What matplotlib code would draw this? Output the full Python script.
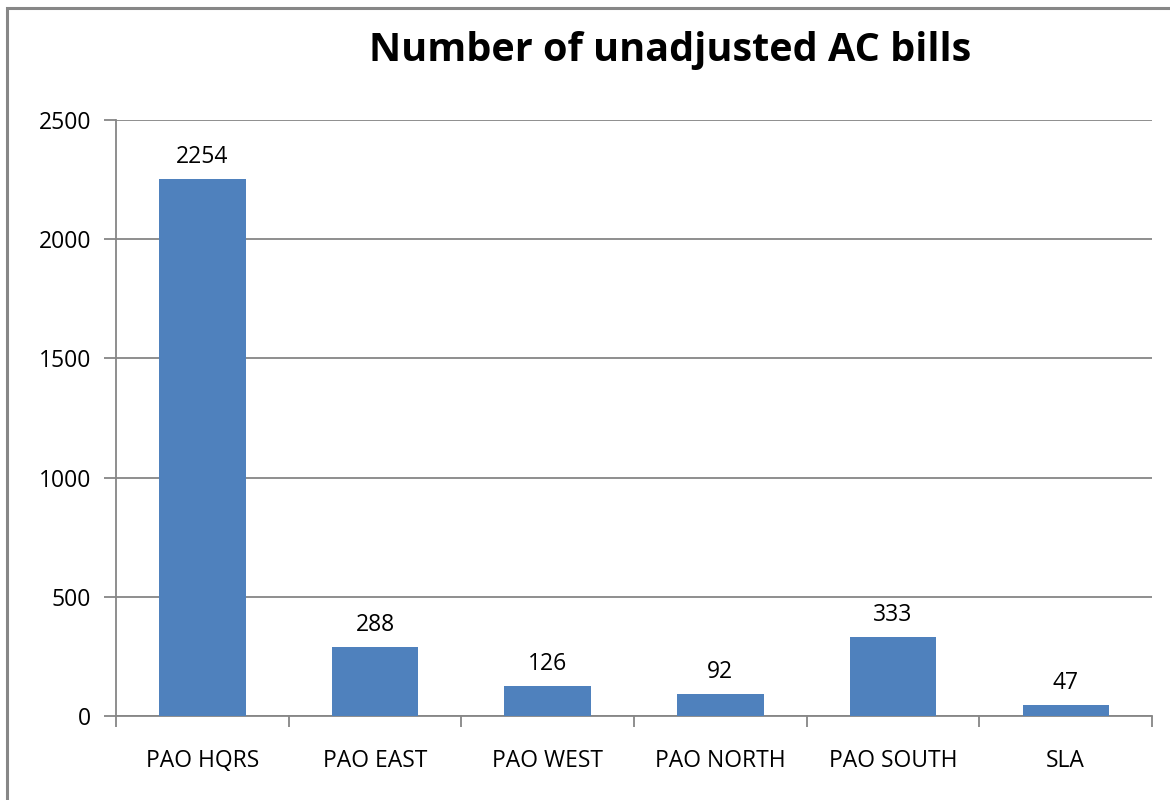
import matplotlib
matplotlib.use("Agg")
import matplotlib.pyplot as plt
from matplotlib.patches import Rectangle

categories = ["PAO HQRS", "PAO EAST", "PAO WEST", "PAO NORTH", "PAO SOUTH", "SLA"]
values = [2254, 288, 126, 92, 333, 47]
yticks = [0, 500, 1000, 1500, 2000, 2500]

plt.rcParams['font.family'] = ['Open Sans', 'DejaVu Sans']

W, H = 1170, 800
fig = plt.figure(figsize=(W / 100, H / 100), dpi=100)
fig.patch.set_facecolor("white")

# outer border
fig.patches.append(Rectangle((7 / W, -0.1), 1.2, (H - 8) / H + 0.1, transform=fig.transFigure,
                             fill=False, edgecolor="#878787", linewidth=2.2))

FS = 16.5
ax = fig.add_axes([116 / W, 1 - 716 / H, (1152 - 116) / W, (716 - 120) / H])
x = list(range(len(categories)))
ax.bar(x, values, width=0.5, color="#4F81BD", zorder=3)
ax.set_xlim(-0.5, len(categories) - 0.5)
ax.set_ylim(0, 2500)
ax.set_yticks(yticks)
ax.set_yticklabels([str(t) for t in yticks], fontsize=FS)
ax.yaxis.grid(True, color="#868686", linewidth=1.3, zorder=0)
ax.set_xticks([i - 0.5 for i in range(len(categories) + 1)], minor=False)
ax.set_xticklabels([""] * (len(categories) + 1))
ax.set_xticks(x, minor=True)
ax.set_xticklabels(categories, minor=True, fontsize=FS)
ax.tick_params(axis="x", which="major", length=8, color="#868686", width=1.3)
ax.tick_params(axis="x", which="minor", length=0, pad=24)
ax.tick_params(axis="y", length=9, color="#868686", width=1.3, pad=9)
for s in ["top", "right"]:
    ax.spines[s].set_visible(False)
for s in ["left", "bottom"]:
    ax.spines[s].set_color("#868686")
    ax.spines[s].set_linewidth(1.3)

for xi, v in zip(x, values):
    ax.annotate(str(v), (xi, v), xytext=(0, 11.5), textcoords="offset points",
                ha="center", va="baseline", fontsize=FS)

fig.text(670 / W, 1 - 51 / H, "Number of unadjusted AC bills", ha="center", va="center",
         fontsize=28.5, fontweight="bold")

fig.savefig("out.png", dpi=100)
